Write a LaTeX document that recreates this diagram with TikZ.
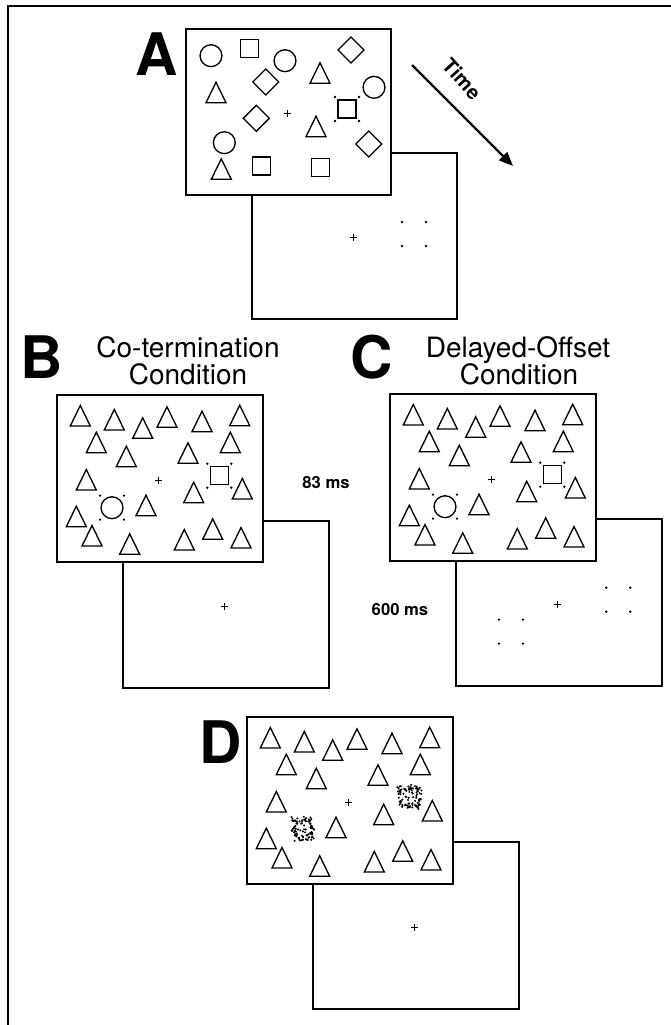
\documentclass[tikz,border=0pt]{standalone}
\usepackage{fontspec}
\setmainfont{TeX Gyre Heros}
\usetikzlibrary{arrows.meta}

\tikzset{
  screen/.style={line width=1.9pt, fill=white},
  item/.style={line width=1pt},
  panellabel/.style={font=\fontsize{44}{44}\selectfont\bfseries, inner sep=0pt, anchor=base},
  condlabel/.style={font=\fontsize{21}{21}\selectfont, inner sep=0pt, anchor=base},
  durlabel/.style={font=\fontsize{12.5}{12.5}\selectfont\bfseries, inner sep=0pt, anchor=base},
  timearrow/.style={line width=1.7pt, -{Triangle[length=10.5pt,width=8.5pt]}},
}

% small helpers, coordinates in pixels of the screen
\newcommand{\fixcross}[2]{\draw[line width=0.6pt] (#1-3.5,#2) -- (#1+3.5,#2) (#1,#2-3.5) -- (#1,#2+3.5);}
\newcommand{\cuedots}[2]{\foreach \dx in {-12,12} \foreach \dy in {-12,12} \fill (#1+\dx,#2+\dy) circle (0.95pt);}
\newcommand{\tri}[2]{\draw[item] (#1-10,#2) -- (#1,#2-20.5) -- (#1+10,#2) -- cycle;}
\newcommand{\sqr}[2]{\draw[item] (#1-9,#2-9) rectangle (#1+9,#2+9);}
\newcommand{\dmd}[2]{\draw[item] (#1-13,#2) -- (#1,#2-13) -- (#1+13,#2) -- (#1,#2+13) -- cycle;}
\newcommand{\crc}[2]{\draw[item] (#1,#2) circle (8.2pt);}
\newcommand{\triangles}{%
  \foreach \tx/\ty in {23.3/31, 57.3/35, 85.7/43.3, 110/32.3, 145/36.7, 182.7/30.7,
      39.3/57.7, 69.3/71.7, 131/68.3, 173.3/57.7, 29.3/95, 136.7/107.7, 185.3/104,
      89/120.7, 19.3/131.7, 35/151, 72.7/159.3, 127.3/155, 155.7/144.3, 184/153}
    {\tri{\tx}{\ty}}}
% noise masks: scattered dots plus dots along the old outline
\newcommand{\noiseround}[2]{%
  \foreach \k in {1,...,45} {
    \pgfmathsetmacro{\rx}{#1+rand*12.5}
    \pgfmathsetmacro{\ry}{#2+rand*12.5}
    \fill (\rx,\ry) circle (0.85pt);
  }
  \foreach \k in {1,...,50} {
    \pgfmathsetmacro{\ra}{rnd*360}
    \pgfmathsetmacro{\rr}{10+rand*2.5}
    \fill ({#1+\rr*cos(\ra)},{#2+\rr*sin(\ra)}) circle (0.85pt);
  }}
\newcommand{\noisesquare}[2]{%
  \foreach \k in {1,...,45} {
    \pgfmathsetmacro{\rx}{#1+rand*12.5}
    \pgfmathsetmacro{\ry}{#2+rand*12.5}
    \fill (\rx,\ry) circle (0.85pt);
  }
  \foreach \k in {1,...,12} {
    \fill ({#1+rand*10},{#2-9+rand*2}) circle (0.85pt);
    \fill ({#1+rand*10},{#2+9+rand*2}) circle (0.85pt);
    \fill ({#1-9+rand*2},{#2+rand*10}) circle (0.85pt);
    \fill ({#1+9+rand*2},{#2+rand*10}) circle (0.85pt);
  }}

\begin{document}
\begin{tikzpicture}[x=0.75pt, y=-0.75pt]
  \useasboundingbox (0,0) rectangle (671,1025);
  \pgfmathsetseed{42}

  % Outer border
  \draw[line width=1.5pt] (8,1025) -- (8,5.5) -- (671,5.5);

  % Panel A: second screen
  \begin{scope}[shift={(252,153)}]
    \draw[screen] (0,0) rectangle (205,166);
    \fixcross{101}{84}
    \cuedots{162}{81}
  \end{scope}

  % Panel A: search display
  \begin{scope}[shift={(186,29)}]
    \draw[screen] (0,0) rectangle (205,166);
    \crc{25}{26.7} \crc{99}{31.7} \crc{188}{58.3} \crc{38.3}{113.7}
    \sqr{63.3}{19.3} \sqr{161}{80} \sqr{75.7}{137} \sqr{134.7}{138.7}
    \dmd{165}{21} \dmd{79.7}{53} \dmd{70.3}{89.3} \dmd{182.7}{115}
    \tri{30}{73.7} \tri{134}{54.3} \tri{130}{107.7} \tri{35.3}{150.3}
    \fixcross{101}{84}
    \cuedots{161}{80}
  \end{scope}

  \node[panellabel] (labA) at (157,75) {A};

  % Time arrow
  \coordinate (timestart) at (412,65);
  \coordinate (timeend) at (513,166);
  \draw[timearrow] (timestart) -- (timeend);
  \node[font=\fontsize{15}{15}\selectfont\bfseries, rotate=-48, inner sep=0pt] (timelab) at (462,79) {Time};

  % Panel B: co-termination
  \begin{scope}[shift={(123,521)}]
    \draw[screen] (0,0) rectangle (206,167);
    \fixcross{101}{85}
  \end{scope}
  \begin{scope}[shift={(57,395)}]
    \draw[screen] (0,0) rectangle (206,167);
    \triangles
    \crc{55}{112.7} \cuedots{55}{112.7}
    \sqr{162.3}{80.7} \cuedots{162.3}{80.7}
    \fixcross{101}{85}
  \end{scope}

  \node[panellabel] (labB) at (42,378) {B};
  \node[condlabel] (condB1) at (188,357) {Co-termination};
  \node[condlabel] (condB2) at (188,384) {Condition};

  % Panel C: delayed offset
  \begin{scope}[shift={(456,519)}]
    \draw[screen] (0,0) rectangle (206,167);
    \fixcross{101}{85}
    \cuedots{162.3}{80.7}
    \cuedots{55}{112.7}
  \end{scope}
  \begin{scope}[shift={(390,394)}]
    \draw[screen] (0,0) rectangle (206,167);
    \triangles
    \crc{55}{112.7} \cuedots{55}{112.7}
    \sqr{162.3}{80.7} \cuedots{162.3}{80.7}
    \fixcross{101}{85}
  \end{scope}

  \node[panellabel] (labC) at (372,378) {C};
  \node[condlabel] (condC1) at (518,357) {Delayed-Offset};
  \node[condlabel] (condC2) at (519,384) {Condition};

  % Durations
  \node[durlabel] (dur83) at (326,488) {83 ms};
  \node[durlabel] (dur600) at (400,615) {600 ms};

  % Panel D: noise masks
  \begin{scope}[shift={(313,842)}]
    \draw[screen] (0,0) rectangle (206,167);
    \fixcross{101}{85}
  \end{scope}
  \begin{scope}[shift={(247,717)}]
    \draw[screen] (0,0) rectangle (206,167);
    \triangles
    \noiseround{56}{111.6}
    \noisesquare{162.3}{80}
    \fixcross{101}{85}
  \end{scope}

  \node[panellabel] (labD) at (221,763) {D};
\end{tikzpicture}
\end{document}
